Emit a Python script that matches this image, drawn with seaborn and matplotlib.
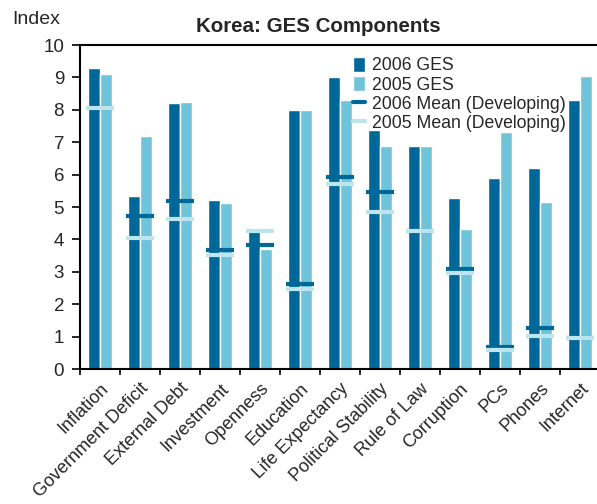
import numpy as np
import pandas as pd
import matplotlib
matplotlib.use("Agg")
import matplotlib.pyplot as plt
import matplotlib.transforms as mtransforms
import seaborn as sns
from matplotlib.lines import Line2D
from matplotlib.patches import Patch

# ── Data ──────────────────────────────────────────────────────────
categories = ["Inflation", "Government Deficit", "External Debt", "Investment",
              "Openness", "Education", "Life Expectancy", "Political Stability",
              "Rule of Law", "Corruption", "PCs", "Phones", "Internet"]
ges_2006  = [9.3, 5.35, 8.2, 5.22, 4.3, 8.0, 9.0, 7.38, 6.88, 5.28, 5.9, 6.2, 8.3]
ges_2005  = [9.1, 7.2, 8.24, 5.12, 3.7, 8.0, 8.3, 6.88, 6.88, 4.32, 7.31, 5.15, 9.05]
mean_2006 = [8.07, 4.72, 5.2, 3.67, 3.84, 2.63, 5.94, 5.45, 4.25, 3.1, 0.67, 1.28, 0.97]
mean_2005 = [8.07, 4.03, 4.62, 3.52, 4.25, 2.48, 5.72, 4.84, 4.25, 2.95, 0.59, 1.01, 0.97]
y_ticks   = list(range(0, 11))

DARK  = "#006898"
LIGHT = "#6FC4D9"
PALE  = "#BEE4EE"

df = pd.DataFrame({
    "category": categories * 2,
    "value":    ges_2006 + ges_2005,
    "series":   ["2006 GES"] * len(categories) + ["2005 GES"] * len(categories),
})

sns.set_style("white")
plt.rcParams["font.family"] = ["Liberation Sans", "DejaVu Sans"]

fig = plt.figure(figsize=(5.97, 5.04), dpi=100)
ax = fig.add_axes([80 / 597, 1 - 369 / 504, 520 / 597, 324 / 504])

sns.barplot(data=df, x="category", y="value", hue="series",
            palette=[DARK, LIGHT], width=0.6, gap=0, saturation=1,
            legend=False, ax=ax)

# ── Developing-country means ─────────────────────────────────────
xpos = np.arange(len(categories))
ax.plot(xpos, mean_2006, ls="none", marker="_", ms=20, mew=3, color=DARK, zorder=4)
ax.plot(xpos, mean_2005, ls="none", marker="_", ms=20, mew=3, color=PALE, zorder=5)

# ── Axes ──────────────────────────────────────────────────────────
ax.set_xlim(-0.5, len(categories) - 0.5)
ax.set_ylim(0, 10)
ax.set_yticks(y_ticks)
ax.set_xlabel("")
ax.set_ylabel("")
ax.set_xticks(xpos)
ax.set_xticklabels(categories, rotation=45, ha="right", rotation_mode="anchor",
                   fontsize=13)
shift = mtransforms.ScaledTranslation(-9 / 100, -2 / 100, fig.dpi_scale_trans)
for lbl in ax.get_xticklabels():
    lbl.set_transform(lbl.get_transform() + shift)
ax.set_xticks(np.arange(len(categories) + 1) - 0.5, minor=True)
ax.tick_params(axis="x", which="major", length=0, pad=8)
ax.tick_params(axis="x", which="minor", length=4, width=1.2, direction="out",
               bottom=True, color="black")
ax.tick_params(axis="y", length=5.5, width=1.2, direction="out", left=True,
               labelsize=13.5, pad=6, color="black")

for side in ["left", "bottom", "top"]:
    ax.spines[side].set_color("black")
    ax.spines[side].set_linewidth(1.5)
ax.spines["right"].set_visible(False)

fig.text(0.5 + 20 / 597, 1 - 32 / 504, "Korea: GES Components", ha="center",
         va="baseline", fontsize=14.8, fontweight="bold")
fig.text(12 / 597, 1 - 24 / 504, "Index", ha="left", va="baseline", fontsize=14)

handles = [
    Patch(facecolor=DARK, label="2006 GES"),
    Patch(facecolor=LIGHT, label="2005 GES"),
    Line2D([], [], color=DARK, lw=3, label="2006 Mean (Developing)"),
    Line2D([], [], color=PALE, lw=3, label="2005 Mean (Developing)"),
]
ax.legend(handles=handles, loc="upper left", bbox_to_anchor=(353 / 597, 1 - 57 / 504),
          bbox_transform=fig.transFigure, frameon=False, fontsize=12.7,
          handlelength=0.7, handleheight=0.9, handletextpad=0.4,
          labelspacing=0.1, borderpad=0, borderaxespad=0)

fig.savefig("out.png", dpi=100)
